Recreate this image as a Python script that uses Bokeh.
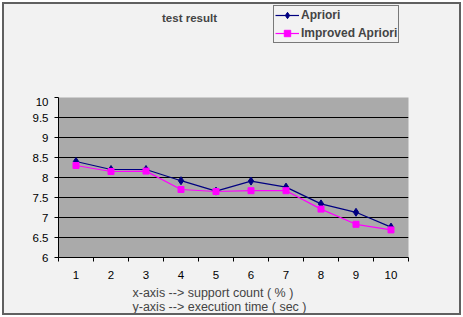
from bokeh.plotting import figure
from bokeh.layouts import column
from bokeh.models import FixedTicker, Legend, LegendItem, Label, Range1d
from bokeh.embed import file_html
from bokeh.resources import INLINE

support = [1, 2, 3, 4, 5, 6, 7, 8, 9, 10]
apriori = [8.4, 8.2, 8.2, 7.92, 7.66, 7.91, 7.76, 7.34, 7.13, 6.76]
improved = [8.3, 8.15, 8.16, 7.7, 7.65, 7.67, 7.67, 7.21, 6.83, 6.69]
y_ticks = [6, 6.5, 7, 7.5, 8, 8.5, 9, 9.5, 10]
x_bounds = [0.5, 1.5, 2.5, 3.5, 4.5, 5.5, 6.5, 7.5, 8.5, 9.5, 10.5]
series_names = ["Apriori", "Improved Apriori"]
title_text = "test result"
xlabel_text = "x-axis --> support count ( % )"
ylabel_text = "y-axis --> execution time ( sec )"

FONT = "Liberation Sans"
BG = "#f2f2f2"
NAVY = "#000080"
MAGENTA = "#ff00ff"

W = 455
BL, BR = 54, 51


def strip(h):
    f = figure(width=W, height=h, output_backend="svg", toolbar_location=None,
               x_axis_type=None, y_axis_type=None,
               min_border_left=BL, min_border_right=BR, min_border_top=0, min_border_bottom=0,
               x_range=Range1d(-1, 0), y_range=Range1d(-1, 0),
               background_fill_color=BG, border_fill_color=BG)
    f.outline_line_color = None
    f.grid.grid_line_color = None
    return f


# ---- top strip: title + legend (series drawn out of view, used only for legend glyphs) ----
top = strip(93)
t1l = top.line(support, apriori, line_color=NAVY, line_width=1.2)
t1m = top.scatter(support, apriori, marker="diamond", size=7, color=NAVY)
t2l = top.line(support, improved, line_color=MAGENTA, line_width=1.2)
t2m = top.scatter(support, improved, marker="square", size=5, color=MAGENTA)
legend = Legend(items=[LegendItem(label=series_names[0], renderers=[t1l, t1m]),
                       LegendItem(label=series_names[1], renderers=[t2l, t2m])],
                location=(215, 54), padding=1, spacing=2, margin=0,
                label_height=16, glyph_height=16, glyph_width=24, label_standoff=2,
                label_text_font=FONT, label_text_font_size="12px", label_text_font_style="bold",
                border_line_color="black", border_line_width=1,
                background_fill_color=BG, background_fill_alpha=1)
top.add_layout(legend, "center")
top.add_layout(Label(x=131, y=80, x_units="screen", y_units="screen", text=title_text,
                     text_font=FONT, text_font_size="11.5px", text_font_style="bold",
                     text_align="center", text_baseline="middle"))

# ---- main chart ----
p = figure(frame_width=350, frame_height=160, output_backend="svg", toolbar_location=None,
           x_range=Range1d(0.5, 10.5), y_range=Range1d(6, 10),
           min_border_left=BL, min_border_right=BR, min_border_top=0, min_border_bottom=27,
           background_fill_color="#aaaaaa", border_fill_color=BG)
p.outline_line_color = None
p.xaxis.ticker = FixedTicker(ticks=support, minor_ticks=x_bounds)
p.xaxis.major_tick_line_color = None
p.xaxis.major_tick_out = 0
p.xaxis.major_tick_in = 0
p.xaxis.minor_tick_line_color = "black"
p.xaxis.minor_tick_out = 4
p.xaxis.minor_tick_in = 0
p.xaxis.major_label_standoff = 9
p.yaxis.ticker = FixedTicker(ticks=y_ticks)
p.yaxis.minor_tick_line_color = None
p.yaxis.major_tick_out = 4
p.yaxis.major_tick_in = 0
p.yaxis.major_label_standoff = 6
for ax in (p.xaxis, p.yaxis):
    ax.axis_line_color = "black"
    ax.major_label_text_font = FONT
    ax.major_label_text_font_size = "11.5px"
    ax.major_label_text_color = "black"
p.xgrid.grid_line_color = None
p.ygrid.ticker = FixedTicker(ticks=y_ticks)
p.ygrid.grid_line_color = "black"
p.ygrid.grid_line_width = 1

p.line(support, apriori, line_color=NAVY, line_width=1.2)
p.scatter(support, apriori, marker="diamond", size=8, color=NAVY)
p.line(support, improved, line_color=MAGENTA, line_width=1.2)
p.scatter(support, improved, marker="square", size=6, color=MAGENTA)

# ---- bottom strip: axis descriptions ----
bot = strip(29)
bot.add_layout(Label(x=74, y=21, x_units="screen", y_units="screen", text=xlabel_text,
                     text_font=FONT, text_font_size="12.5px", text_baseline="middle"))
bot.add_layout(Label(x=74, y=7, x_units="screen", y_units="screen", text=ylabel_text,
                     text_font=FONT, text_font_size="12.5px", text_baseline="middle"))

layout = column(top, p, bot, spacing=0,
                styles={"background-color": BG, "border": "2px solid #606060",
                        "box-sizing": "content-box", "margin-left": "2px", "margin-top": "2px"})
html = file_html(layout, INLINE)
open("out.html", "w").write(html)
